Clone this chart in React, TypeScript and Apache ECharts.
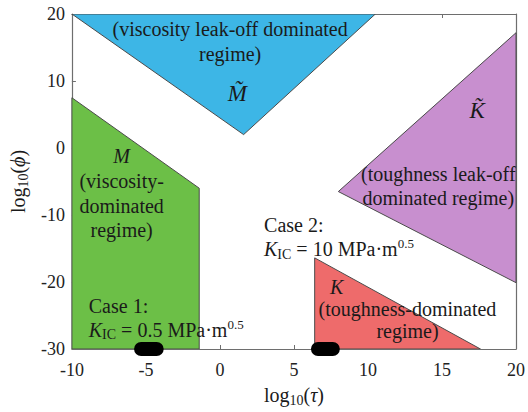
import React, { useEffect, useRef } from "react";
import * as echarts from "echarts";

// Axis ranges
const xRange = [-10, 20];
const xStep = 5;
const yRange = [-30, 20];
const yStep = 10;

// Regime regions (log10 tau, log10 phi)
const mTildeRegion = [[-10, 20], [10.5, 20], [1.6, 2.0]];
const mRegion = [[-10, 7.5], [-1.4, -6.0], [-1.4, -30], [-10, -30]];
const kTildeRegion = [[20, 17.2], [8.0, -6.5], [20, -20.1]];
const kRegion = [[6.4, -16.4], [6.4, -30], [17.6, -30]];

// Case ranges along log10(tau) at log10(phi) = -30
const case1Range = [-5.8, -3.8];
const case2Range = [6.15, 8.1];
const caseLevel = -30;

const FONT = "Liberation Serif";
const INK = "#1a1a1a";

const rich = {
  n: { fontFamily: FONT, fontSize: 20, lineHeight: 25, verticalAlign: "middle", color: INK },
  g: { fontFamily: FONT, fontSize: 20, lineHeight: 24.5, verticalAlign: "middle", color: INK },
  c: { fontFamily: FONT, fontSize: 20, lineHeight: 24, verticalAlign: "middle", color: INK },
  ci: { fontFamily: FONT, fontSize: 20, fontStyle: "italic", lineHeight: 24, verticalAlign: "middle", color: INK },
  s: { fontFamily: FONT, fontSize: 20, lineHeight: 22, verticalAlign: "middle", color: INK },
  i: { fontFamily: FONT, fontSize: 20, fontStyle: "italic", lineHeight: 25, verticalAlign: "middle", color: INK },
  big: { fontFamily: FONT, fontSize: 23, fontStyle: "italic", lineHeight: 26, verticalAlign: "middle", color: INK },
  sub: { fontFamily: FONT, fontSize: 14, lineHeight: 10, verticalAlign: "bottom", color: INK },
  sup: { fontFamily: FONT, fontSize: 13, lineHeight: 10, verticalAlign: "top", color: INK },
  an: { fontFamily: FONT, fontSize: 20, lineHeight: 24, verticalAlign: "middle", color: INK },
  ai: { fontFamily: FONT, fontSize: 20, fontStyle: "italic", lineHeight: 24, verticalAlign: "middle", color: INK },
  asub: { fontFamily: FONT, fontSize: 14, lineHeight: 10, verticalAlign: "bottom", color: INK },
};

// Annotation anchors in data space
const labelAnchors = [
  [0.69, 15.83],
  [1.17, 8.16],
  [-6.64, -6.75],
  [14.75, -5.73],
  [17.38, 5.67],
  [2.98, -13.33],
  [-8.86, -25.3],
  [7.89, -20.8],
  [12.67, -25.7],
];
const labelTexts = [
  "{n|(viscosity leak-off dominated}\n{n|regime)}",
  "{big|M\u0303}",
  "{i|M}\n{g|(viscosity-}\n{g|dominated}\n{g|regime)}",
  "{c|(toughness leak-off}\n{c|dominated regime)}",
  "{big|K\u0303}",
  "{c|Case 2:}\n{ci|K}{sub|IC}{c| = 10 MPa·m}{sup|0.5}",
  "{c|Case 1:}\n{ci|K}{sub|IC}{c| = 0.5 MPa·m}{sup|0.5}",
  "{i|K}",
  "{s|(toughness-dominated}\n{s|regime)}",
];
const labelAlign = ["center", "center", "center", "center", "center", "left", "left", "center", "center"];

const regionColors = ["#3db6e6", "#6cbf47", "#c88fcf", "#ee6b6b"];

function polygonSeries(points: number[][], color: string) {
  return {
    type: "custom",
    coordinateSystem: "cartesian2d",
    clip: true,
    silent: true,
    z: 2,
    data: points,
    encode: { x: 0, y: 1 },
    renderItem: (params: any, api: any) => {
      if (params.dataIndex !== 0) return null;
      const pts = points.map((p) => api.coord(p));
      return {
        type: "polygon",
        shape: { points: pts },
        style: { fill: color, stroke: "#4a4a4a", lineWidth: 1 },
      };
    },
  };
}

function pillSeries(range: number[]) {
  return {
    type: "custom",
    coordinateSystem: "cartesian2d",
    clip: false,
    silent: true,
    z: 10,
    data: [[range[0], caseLevel], [range[1], caseLevel]],
    encode: { x: 0, y: 1 },
    renderItem: (params: any, api: any) => {
      if (params.dataIndex !== 0) return null;
      const a = api.coord([range[0], caseLevel]);
      const b = api.coord([range[1], caseLevel]);
      const h = 14;
      return {
        type: "rect",
        shape: { x: a[0], y: a[1] - h / 2, width: b[0] - a[0], height: h, r: h / 2 },
        style: { fill: "#000" },
      };
    },
  };
}

export default function App() {
  const ref = useRef<HTMLDivElement>(null);
  useEffect(() => {
    if (!ref.current) return;
    const chart = echarts.init(ref.current, undefined, { renderer: "svg" });
    const axisLabel = { fontFamily: FONT, fontSize: 18, color: "#222" };
    const lineStyle = { color: "#6e6e6e", width: 1.2 };
    chart.setOption({
      animation: false,
      backgroundColor: "#fff",
      grid: { left: 71, right: 11, top: 14, bottom: 56, containLabel: false },
      xAxis: [
        {
          type: "value",
          min: xRange[0],
          max: xRange[1],
          interval: xStep,
          position: "bottom",
          axisLine: { onZero: false, lineStyle },
          axisTick: { inside: true, length: 4, lineStyle: { color: "#6e6e6e" } },
          axisLabel: { ...axisLabel, margin: 12 },
          splitLine: { show: false },
          name: "{an|log}{asub|10}{an|(}{ai|τ}{an|)}",
          nameLocation: "middle",
          nameGap: 34,
          nameTextStyle: { rich },
        },
        {
          type: "value",
          min: xRange[0],
          max: xRange[1],
          interval: xStep,
          position: "top",
          axisLine: { onZero: false, lineStyle },
          axisTick: { inside: true, length: 4, lineStyle: { color: "#6e6e6e" } },
          axisLabel: { show: false },
          splitLine: { show: false },
        },
      ],
      yAxis: [
        {
          type: "value",
          min: yRange[0],
          max: yRange[1],
          interval: yStep,
          position: "left",
          axisLine: { onZero: false, lineStyle },
          axisTick: { inside: true, length: 4, lineStyle: { color: "#6e6e6e" } },
          axisLabel: { ...axisLabel, margin: 7 },
          splitLine: { show: false },
          name: "{an|log}{asub|10}{an|(}{ai|ϕ}{an|)}",
          nameLocation: "middle",
          nameRotate: 90,
          nameGap: 39,
          nameTextStyle: { rich },
        },
        {
          type: "value",
          min: yRange[0],
          max: yRange[1],
          interval: yStep,
          position: "right",
          axisLine: { onZero: false, lineStyle },
          axisTick: { show: false },
          axisLabel: { show: false },
          splitLine: { show: false },
        },
      ],
      series: [
        polygonSeries(mTildeRegion, regionColors[0]),
        polygonSeries(mRegion, regionColors[1]),
        polygonSeries(kTildeRegion, regionColors[2]),
        polygonSeries(kRegion, regionColors[3]),
        {
          type: "custom",
          coordinateSystem: "cartesian2d",
          clip: false,
          silent: true,
          z: 5,
          data: labelAnchors,
          encode: { x: 0, y: 1 },
          renderItem: (params: any, api: any) => {
            const i = params.dataIndex;
            const p = api.coord(labelAnchors[i]);
            return {
              type: "text",
              x: p[0],
              y: p[1],
              style: {
                text: labelTexts[i],
                rich,
                align: labelAlign[i],
                verticalAlign: "middle",
                fill: INK,
                font: `20px ${FONT}`,
              },
            };
          },
        },
        pillSeries(case1Range),
        pillSeries(case2Range),
      ],
    });
    return () => chart.dispose();
  }, []);
  return <div ref={ref} style={{ width: 528, height: 412, position: "absolute", left: 0, top: 0 }} />;
}
